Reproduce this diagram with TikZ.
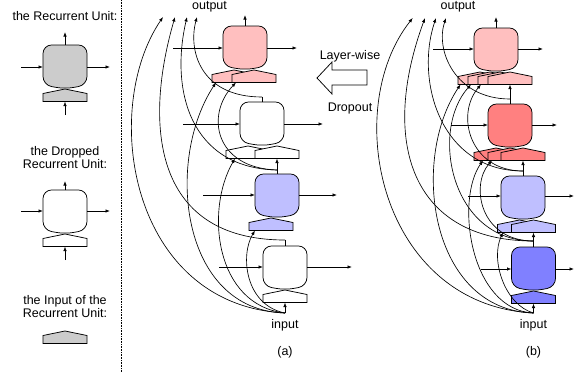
\documentclass[tikz,border=0pt]{standalone}
\usepackage{fontspec}
\setmainfont{Liberation Sans}
\usetikzlibrary{arrows.meta}
\definecolor{upink}{HTML}{FFBFBF}
\definecolor{ured}{HTML}{FF8080}
\definecolor{ulblue}{HTML}{BFBFFF}
\definecolor{udblue}{HTML}{8080FF}
\definecolor{ugray}{HTML}{CCCCCC}
% body of a unit: #1 centre x, #2 top y, #3 fill
\newcommand\ubody[3]{\filldraw[unitline,fill=#3,rounded corners=8.5pt] ({#1-22},{#2+20}) -- ({#1-22},{#2+40}) -- (#1,{#2+44}) -- ({#1+22},{#2+40}) -- ({#1+22},#2) -- ({#1-22},#2) -- cycle;}
% input of a unit: #1 centre x, #2 peak y, #3 fill
\newcommand\uinput[3]{\filldraw[unitline,fill=#3] ({#1-22},{#2+4.5}) -- (#1,#2) -- ({#1+22},{#2+4.5}) -- ({#1+22},{#2+12.5}) -- ({#1-22},{#2+12.5}) -- cycle;}
\begin{document}
\begin{tikzpicture}[x=1pt,y=-1pt,
  unitline/.style={line width=0.75pt},
  conn/.style={-{Latex[length=4.5pt,width=3.4pt]}, line width=0.65pt},
  wire/.style={line width=0.65pt},
  lbl/.style={font=\fontsize{12.5}{14}\selectfont, inner sep=0pt, anchor=base}]
\useasboundingbox (0,0) rectangle (584,372);

% ---------------- legend ----------------
\draw[line width=0.6pt, densely dotted] (121,0) -- (121,372);
\node[lbl] (t1) at (65,20.5) {the Recurrent Unit:};
\node[lbl] (t2) at (65,155.5) {the Dropped};
\node[lbl] (t3) at (65,168.5) {Recurrent Unit:};
\node[lbl] (t4) at (65,304) {the Input of the};
\node[lbl] (t5) at (65,317.5) {Recurrent Unit:};

\uinput{65}{89}{ugray}
\ubody{65}{45}{ugray}
\coordinate (g1) at (65,45); \coordinate (g1u) at (65,32);
\coordinate (g1l) at (21,67); \coordinate (g1L) at (43,67);
\coordinate (g1R) at (87,67); \coordinate (g1r) at (110,67);
\coordinate (g1b) at (65,115); \coordinate (g1B) at (65,101.5);
\draw[conn] (g1) -- (g1u);
\draw[conn] (g1l) -- (g1L);
\draw[conn] (g1R) -- (g1r);
\draw[conn] (g1b) -- (g1B);

\uinput{65}{234}{white}
\ubody{65}{190}{white}
\coordinate (w1) at (65,190); \coordinate (w1u) at (65,181);
\coordinate (w1l) at (21,211); \coordinate (w1L) at (43,211);
\coordinate (w1R) at (87,211); \coordinate (w1r) at (110,211);
\coordinate (w1b) at (65,260); \coordinate (w1B) at (65,246.5);
\draw[conn] (w1) -- (w1u);
\draw[conn] (w1l) -- (w1L);
\draw[conn] (w1R) -- (w1r);
\draw[conn] (w1b) -- (w1B);

\uinput{65}{331}{ugray}

% ---------------- panel (a) ----------------
\node[lbl] (aoutput) at (209.5,9.5) {output};
\node[lbl] (ainput) at (285,328) {input};
\node[lbl] (acap) at (285,355) {(a)};
\node[lbl] (lw) at (350,59) {Layer-wise};
\node[lbl] (dr) at (350,111.5) {Dropout};
\draw[unitline, fill=white] (317,78) -- (332,62) -- (332,70) -- (367,70) -- (367,85) -- (332,85) -- (332,94) -- cycle;

% units
\uinput{234}{70}{upink}\uinput{254}{70}{upink}
\ubody{245}{26}{upink}
\uinput{248}{146}{white}\uinput{277}{146}{white}
\ubody{262}{102}{white}
\uinput{271}{218}{ulblue}
\ubody{277}{174}{ulblue}
\uinput{285}{290}{white}
\ubody{285}{246}{white}

% side arrows
\coordinate (a1l) at (173,48); \coordinate (a1L) at (223,48);
\coordinate (a1R) at (267,48); \coordinate (a1r) at (297,48);
\coordinate (a2l) at (183,124); \coordinate (a2L) at (240,124);
\coordinate (a2R) at (284,124); \coordinate (a2r) at (323,124);
\coordinate (a3l) at (203,195); \coordinate (a3L) at (255,195);
\coordinate (a3R) at (299,195); \coordinate (a3r) at (337,195);
\coordinate (a4l) at (219,267); \coordinate (a4L) at (263,267);
\coordinate (a4R) at (307,267); \coordinate (a4r) at (352,267);
\foreach \u in {a1,a2,a3,a4}{
  \draw[conn] (\u l) -- (\u L);
  \draw[conn] (\u R) -- (\u r);}

% vertical links
\coordinate (a1T) at (245,26); \coordinate (a1U) at (245,15);
\coordinate (a2T) at (262,102); \coordinate (a2J) at (262,97);
\coordinate (a3T) at (277,174); \coordinate (a3J) at (277,170);
\coordinate (a4T) at (285,246); \coordinate (a4J) at (285,240);
\coordinate (a2in2) at (277,158.5);
\coordinate (a4in) at (285,302.5);
\coordinate (ain) at (285,313);
\draw[conn] (a1T) -- (a1U);
\draw[wire] (a2T) -- (a2J);
\draw[wire] (a4T) -- (a4J);
\draw[conn] (a3T) -- (a2in2);
\draw[conn] (ain) -- (a4in);

% targets
\coordinate (ao1) at (163,17); \coordinate (ao2) at (175,17);
\coordinate (ao3) at (187,17); \coordinate (ao4) at (197,17);
\coordinate (a1in1) at (216,82.5); \coordinate (a1in2) at (236,82.5);
\coordinate (a2in1) at (235,158.5);
\coordinate (a3in) at (255,230.5);

\draw[conn] (ain) .. controls (130,305) and (100,110) .. (ao1);
\draw[conn] (a4J) .. controls (150,240) and (145,120) .. (ao2);
\draw[conn] (a3J) .. controls (190,168) and (170,90) .. (ao3);
\draw[conn] (a2J) .. controls (200,97) and (188,50) .. (ao4);
\draw[conn] (ain) .. controls (180,310) and (165,160) .. (a1in1);
\draw[conn] (a3J) .. controls (215,168) and (205,115) .. (a1in2);
\draw[conn] (ain) .. controls (215,305) and (205,210) .. (a2in1);
\draw[conn] (ain) .. controls (245,305) and (240,255) .. (a3in);

% ---------------- panel (b) ----------------
\node[lbl] (boutput) at (458,9.5) {output};
\node[lbl] (binput) at (533.5,328) {input};
\node[lbl] (bcap) at (533.5,355) {(b)};

\uinput{480}{72}{upink}\uinput{490}{72}{upink}\uinput{500}{72}{upink}\uinput{510}{72}{upink}
\ubody{496}{28}{upink}
\uinput{496}{148}{ured}\uinput{510}{148}{ured}\uinput{523}{148}{ured}
\ubody{510}{104}{ured}
\uinput{519.5}{220}{ulblue}\uinput{533.5}{220}{ulblue}
\ubody{523}{176}{ulblue}
\uinput{533.5}{291}{udblue}
\ubody{533.5}{247}{udblue}

\coordinate (b1l) at (433,49); \coordinate (b1L) at (474,49);
\coordinate (b1R) at (518,49); \coordinate (b1r) at (543,49);
\coordinate (b2l) at (451,125); \coordinate (b2L) at (488,125);
\coordinate (b2R) at (532,125); \coordinate (b2r) at (557,125);
\coordinate (b3l) at (468,196); \coordinate (b3L) at (501,196);
\coordinate (b3R) at (545,196); \coordinate (b3r) at (574,196);
\coordinate (b4l) at (481,269); \coordinate (b4L) at (511.5,269);
\coordinate (b4R) at (555.5,269); \coordinate (b4r) at (574,269);
\foreach \u in {b1,b2,b3,b4}{
  \draw[conn] (\u l) -- (\u L);
  \draw[conn] (\u R) -- (\u r);}

\coordinate (b1T) at (496,28); \coordinate (b1U) at (496,17);
\coordinate (b2T) at (510,104); \coordinate (b2J) at (510,99);
\coordinate (b3T) at (523,176); \coordinate (b3J) at (523,171);
\coordinate (b4T) at (533.5,247); \coordinate (b4J) at (533.5,241);
\coordinate (b1in4) at (510,84.5);
\coordinate (b2in3) at (523,160.5);
\coordinate (b3in2) at (533.5,232.5);
\coordinate (b4in) at (533.5,303.5);
\coordinate (bin) at (533.5,313);
\draw[conn] (b1T) -- (b1U);
\draw[conn] (b2T) -- (b1in4);
\draw[conn] (b3T) -- (b2in3);
\draw[conn] (b4T) -- (b3in2);
\draw[conn] (bin) -- (b4in);

\coordinate (bo1) at (412.7,18); \coordinate (bo2) at (425,18);
\coordinate (bo3) at (436,18); \coordinate (bo4) at (446,18);
\coordinate (b1in1) at (460.5,84.5); \coordinate (b1in2) at (471,84.5);
\coordinate (b1in3) at (481,84.5);
\coordinate (b2in1) at (483,160.5); \coordinate (b2in2) at (492,160.5);
\coordinate (b3in1) at (503,232.5);

\draw[conn] (bin) .. controls (380,305) and (340,110) .. (bo1);
\draw[conn] (b4J) .. controls (410,241) and (380,140) .. (bo2);
\draw[conn] (b3J) .. controls (440,171) and (415,80) .. (bo3);
\draw[conn] (b2J) .. controls (455,99) and (435,50) .. (bo4);
\draw[conn] (bin) .. controls (430,310) and (410,160) .. (b1in1);
\draw[conn] (b4J) .. controls (450,241) and (430,130) .. (b1in2);
\draw[conn] (b3J) .. controls (470,171) and (455,115) .. (b1in3);
\draw[conn] (bin) .. controls (470,310) and (455,200) .. (b2in1);
\draw[conn] (b4J) .. controls (480,241) and (470,185) .. (b2in2);
\draw[conn] (bin) .. controls (505,305) and (490,260) .. (b3in1);
\end{tikzpicture}
\end{document}
